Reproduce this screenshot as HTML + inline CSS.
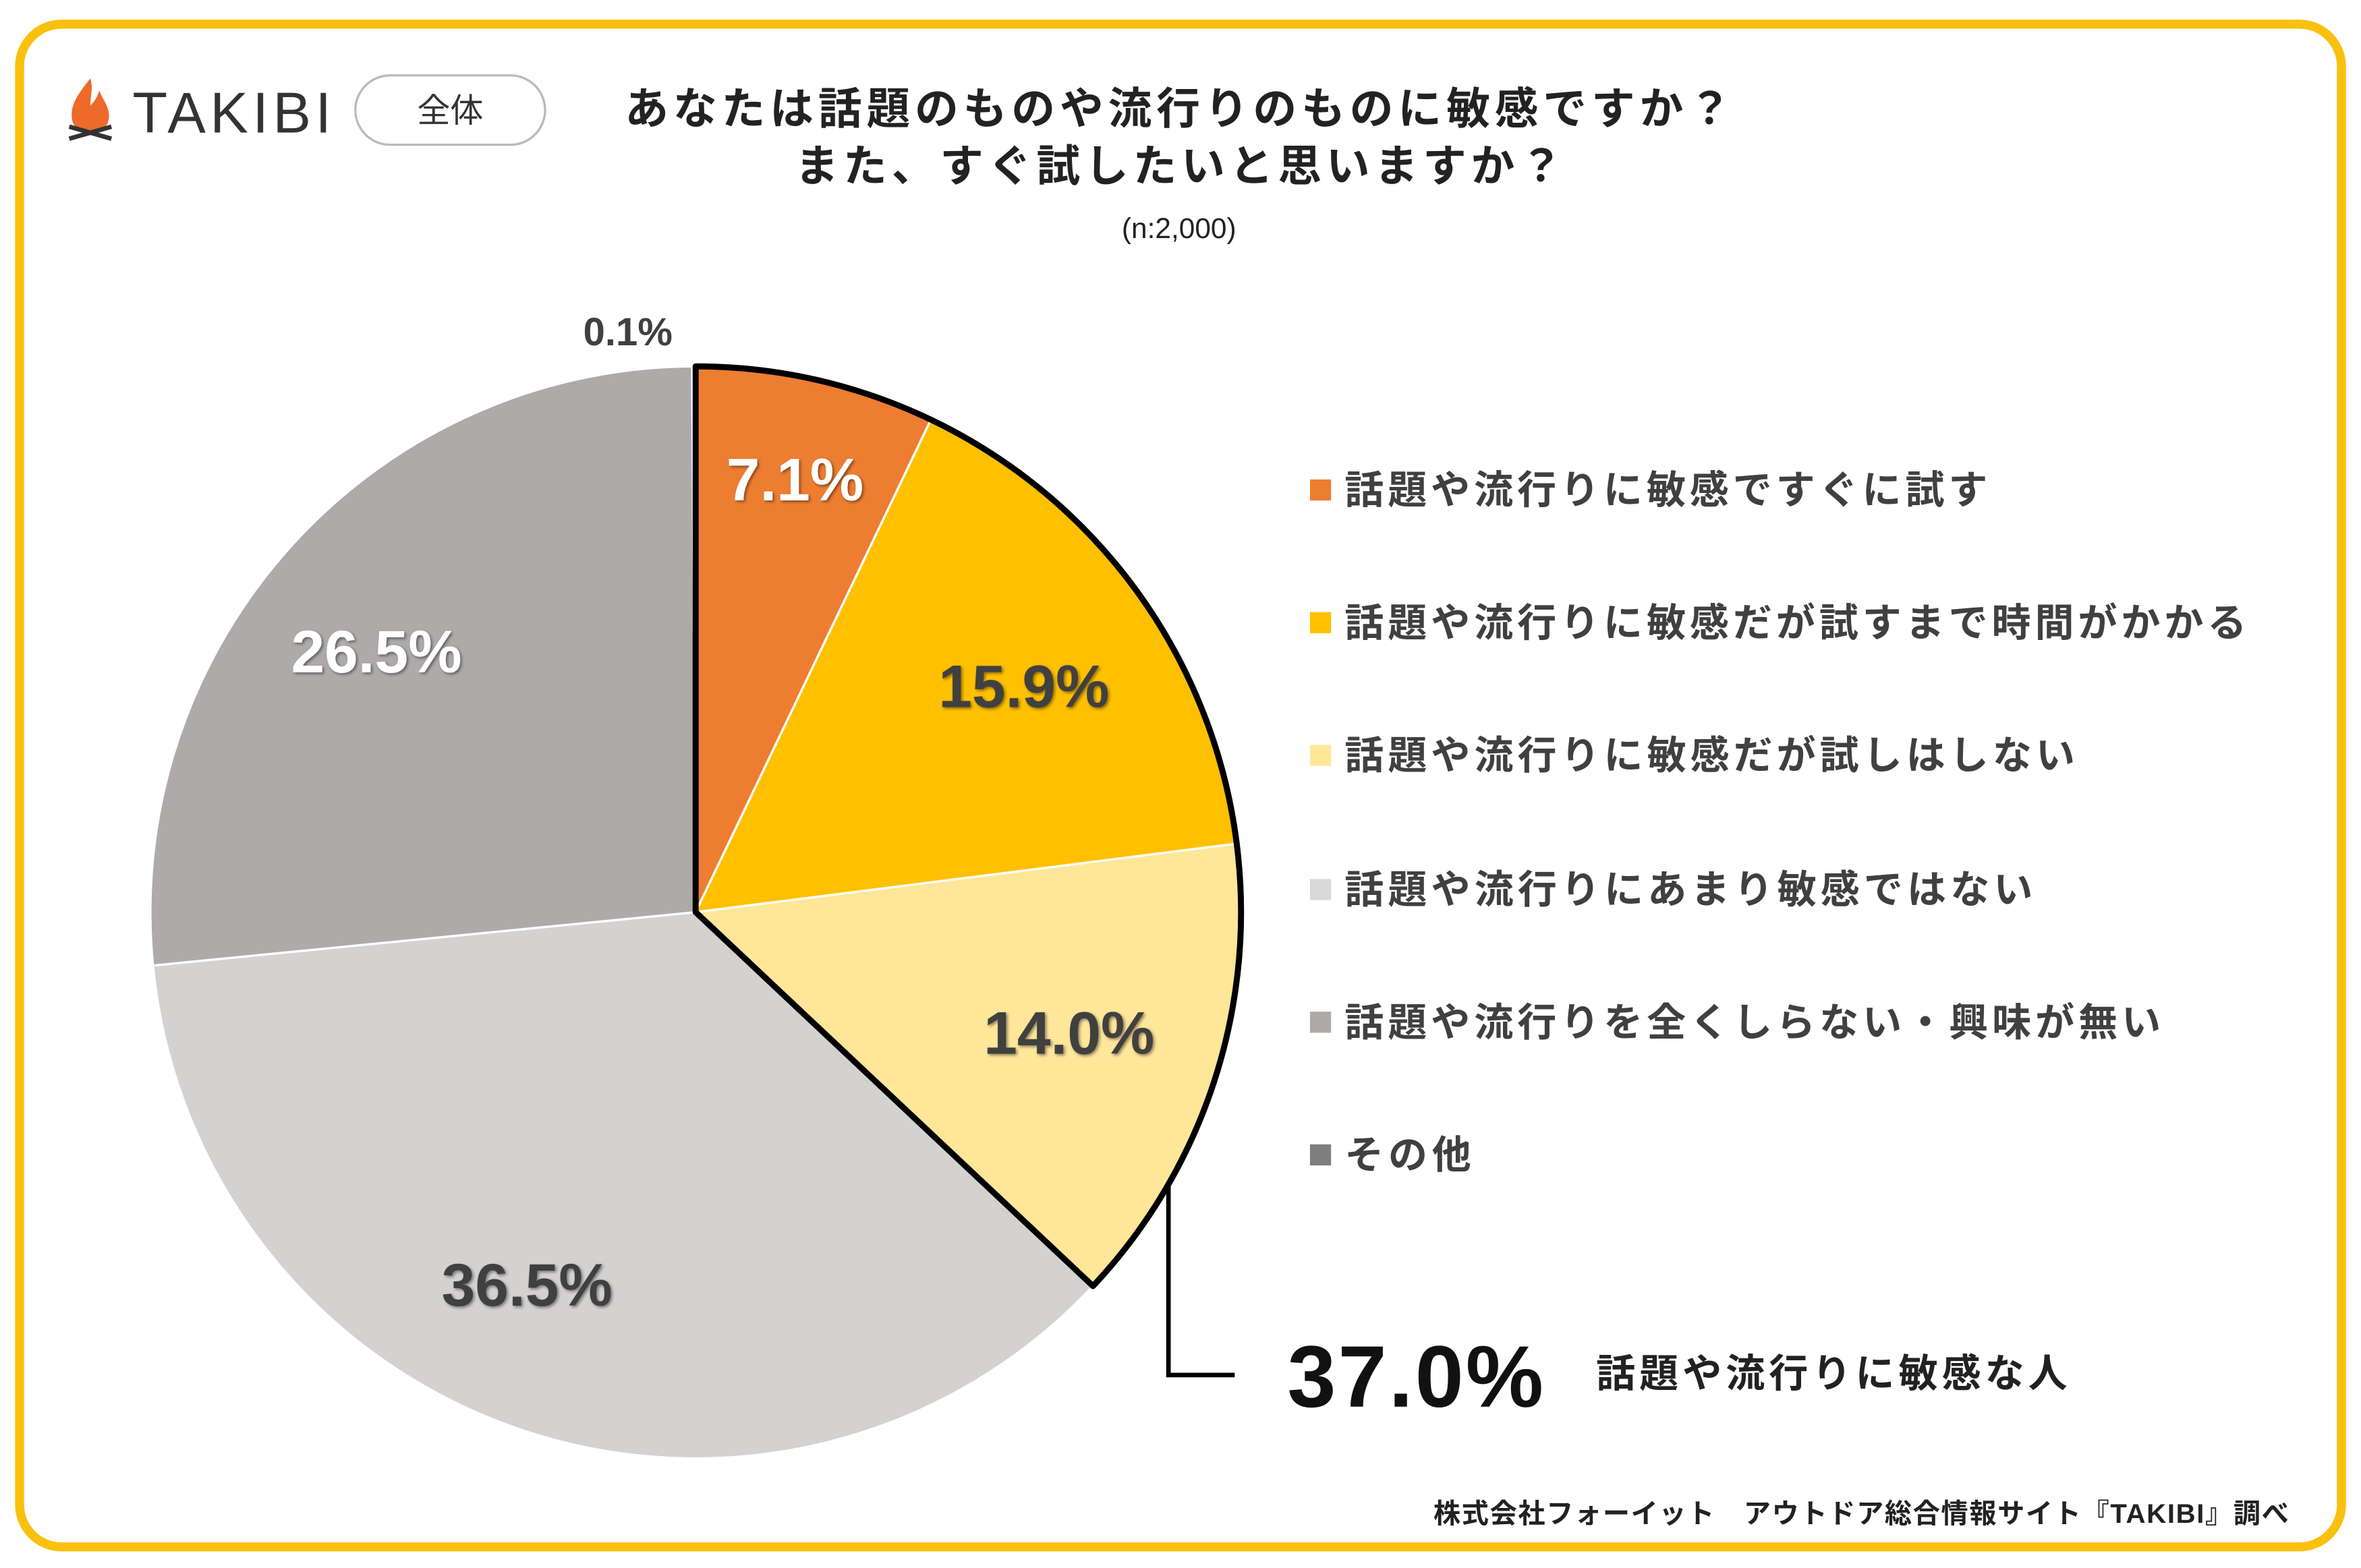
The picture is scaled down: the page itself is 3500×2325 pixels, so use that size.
<!DOCTYPE html>
<html><head><meta charset="utf-8"><style>
html,body{margin:0;padding:0;background:#fff;}
svg{display:block;}
text{font-family:"Liberation Sans","Noto Sans CJK JP",sans-serif;}
</style></head><body>
<svg width="3500" height="2325" viewBox="0 0 1568 1040" preserveAspectRatio="none" xmlns="http://www.w3.org/2000/svg">
<defs><filter id="sh" x="-20%" y="-20%" width="140%" height="140%"><feDropShadow dx="1" dy="1" stdDeviation="1" flood-color="#000" flood-opacity="0.45"/></filter></defs>
<rect x="0" y="0" width="1568" height="1040" fill="#fff"/>
<rect x="13" y="16" width="1542" height="1010" rx="28" fill="none" stroke="#F9C10E" stroke-width="6"/>
<path d="M60 52 C52 62 46 70 48 80 C50 90 70 90 72 80 C74 72 68 66 66 60 C64 66 62 68 60 70 C60 64 62 58 60 52 Z" fill="#ED6A2A"/>
<path d="M46 92 L74 84 M46 84 L74 92" stroke="#333" stroke-width="3"/>
<text x="88" y="88" font-size="38" fill="#333" textLength="132">TAKIBI</text>
<rect x="236" y="50" width="126" height="46" rx="23" fill="#fff" stroke="#bbb" stroke-width="1.5"/>
<text x="299" y="81" font-size="22" fill="#333" text-anchor="middle">全体</text>
<text x="415" y="82" font-size="29" font-weight="bold" fill="#222" textLength="735">あなたは話題のものや流行りのものに敏感ですか？</text>
<text x="528" y="120" font-size="29" font-weight="bold" fill="#222" textLength="510">また、すぐ試したいと思いますか？</text>
<text x="783" y="158" font-size="19" fill="#222" text-anchor="middle">(n:2,000)</text>
<g stroke="#fff" stroke-width="1.5">
<path d="M462 605 L462 243 A362 362 0 0 1 618.2 278.4 Z" fill="#ED7D31"/>
<path d="M462 605 L618.2 278.4 A362 362 0 0 1 821.2 559.6 Z" fill="#FFC000"/>
<path d="M462 605 L821.2 559.6 A362 362 0 0 1 725.9 853.0 Z" fill="#FFE699"/>
<path d="M462 605 L725.9 853.0 A362 362 0 0 1 101.6 640.4 Z" fill="#D4D1D1"/>
<path d="M462 605 L101.6 640.4 A362 362 0 0 1 459.7 243 Z" fill="#AEAAAA"/>
<path d="M462 605 L459.7 243 A362 362 0 0 1 462 243 Z" fill="#7F7F7F"/>
</g>
<path d="M462 605 L462 243 A362 362 0 0 1 725.9 853.0 Z" fill="none" stroke="#000" stroke-width="4" stroke-linejoin="round"/>
<g font-size="40" font-weight="bold" filter="url(#sh)">
<text x="528" y="332" fill="#fff" text-anchor="middle">7.1%</text>
<text x="680" y="469" fill="#404040" text-anchor="middle">15.9%</text>
<text x="710" y="699" fill="#404040" text-anchor="middle">14.0%</text>
<text x="350" y="866" fill="#404040" text-anchor="middle">36.5%</text>
<text x="250" y="446" fill="#fff" text-anchor="middle">26.5%</text>
</g>
<text x="417" y="229" font-size="26" font-weight="bold" fill="#404040" text-anchor="middle">0.1%</text>
<g font-size="26" font-weight="bold" fill="#404040">
<rect x="870" y="318" width="14" height="14" fill="#ED7D31"/><text x="893" y="334" textLength="427">話題や流行りに敏感ですぐに試す</text>
<rect x="870" y="406" width="14" height="14" fill="#FFC000"/><text x="893" y="422" textLength="599">話題や流行りに敏感だが試すまで時間がかかる</text>
<rect x="870" y="494" width="14" height="14" fill="#FFE699"/><text x="893" y="510" textLength="485">話題や流行りに敏感だが試しはしない</text>
<rect x="870" y="583" width="14" height="14" fill="#D9D9D9"/><text x="893" y="599" textLength="457">話題や流行りにあまり敏感ではない</text>
<rect x="870" y="671" width="14" height="14" fill="#AEAAAA"/><text x="893" y="687" textLength="542">話題や流行りを全くしらない・興味が無い</text>
<rect x="870" y="759" width="14" height="14" fill="#7F7F7F"/><text x="893" y="775" textLength="84">その他</text>
</g>
<path d="M776 785 L776 912 L820 912" fill="none" stroke="#000" stroke-width="3"/>
<text x="855" y="933" font-size="58" font-weight="bold" fill="#111" textLength="170">37.0%</text>
<text x="1060" y="920" font-size="26" font-weight="bold" fill="#222" textLength="313">話題や流行りに敏感な人</text>
<text x="952" y="1010" font-size="18" font-weight="bold" fill="#222" textLength="568">株式会社フォーイット　アウトドア総合情報サイト『TAKIBI』調べ</text>
</svg>
</body></html>
